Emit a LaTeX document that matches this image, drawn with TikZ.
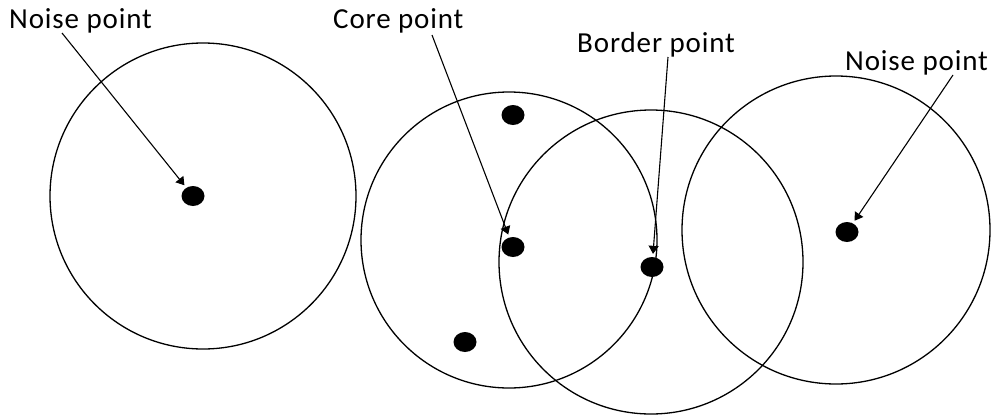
\documentclass[tikz,border=0pt]{standalone}
\usepackage{fontspec}
\setmainfont{Carlito}[LetterSpace=3]
\usetikzlibrary{shapes.geometric,arrows.meta}
\begin{document}
\begin{tikzpicture}[x=1pt,y=-1pt,
  ring/.style={draw,line width=1.3pt},
  dot/.style={ellipse,fill=black,inner sep=0pt,minimum width=23pt,minimum height=20pt},
  lbl/.style={anchor=base west,inner sep=0pt,font=\fontsize{29}{31}\selectfont},
  arr/.style={line width=1.1pt,-{Triangle[width=10pt,length=8pt]},shorten >=3pt}]
\useasboundingbox (0,0) rectangle (995,418);
\fill[white] (0,0) rectangle (995,418);
% circles
\draw[ring] (203,196) circle (153);
\draw[ring] (509,240) circle (148);
\draw[ring] (651,262) circle (152);
\draw[ring] (836,230) circle (154);
% points
\node[dot] (n1) at (193,196) {};
\node[dot] (c0) at (513,115) {};
\node[dot] (c1) at (513,247) {};
\node[dot] (c2) at (465,342) {};
\node[dot] (b1) at (652,267) {};
\node[dot] (n2) at (847,232) {};
% labels
\node[lbl] (l1) at (9,28) {Noise point};
\node[lbl] (l2) at (333,28) {Core point};
\node[lbl] (l3) at (577,52) {Border point};
\node[lbl] (l4) at (845,70) {Noise point};
% arrow starts
\coordinate (s1) at (62,33);
\coordinate (s2) at (432,35);
\coordinate (s3) at (668,57);
\coordinate (s4) at (953,75);
\draw[arr] (s1) -- (n1);
\draw[arr] (s2) -- (c1);
\draw[arr] (s3) -- (b1);
\draw[arr] (s4) -- (n2);
\end{tikzpicture}
\end{document}
